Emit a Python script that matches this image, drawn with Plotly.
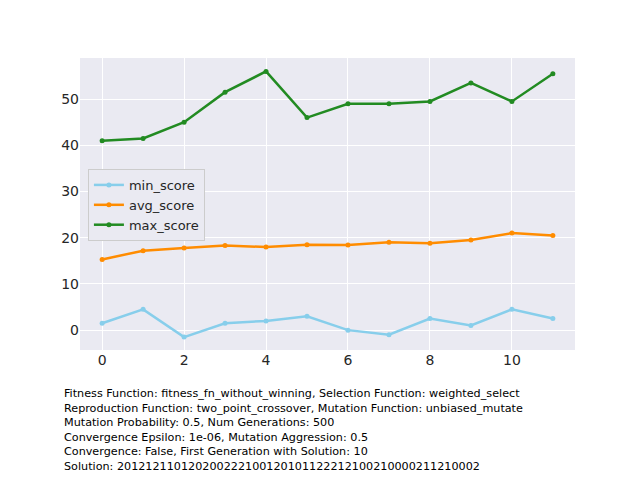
import plotly.graph_objects as go

generations = list(range(12))
min_score = [1.5, 4.5, -1.5, 1.5, 2, 3, 0, -1, 2.5, 1, 4.5, 2.5]
avg_score = [15.3, 17.2, 17.8, 18.3, 18.0, 18.5, 18.4, 19.0, 18.8, 19.5, 21.0, 20.5]
max_score = [41, 41.5, 45, 51.5, 56, 46, 49, 49, 49.5, 53.5, 49.5, 55.5]

info_lines = [
    "Fitness Function: fitness_fn_without_winning, Selection Function: weighted_select",
    "Reproduction Function: two_point_crossover, Mutation Function: unbiased_mutate",
    "Mutation Probability: 0.5, Num Generations: 500",
    "Convergence Epsilon: 1e-06, Mutation Aggression: 0.5",
    "Convergence: False, First Generation with Solution: 10",
    "Solution: 201212110120200222100120101122212100210000211210002",
]

fig = go.Figure()
for name, vals, color in [("min_score", min_score, "#87CEEB"),
                          ("avg_score", avg_score, "#FF8C00"),
                          ("max_score", max_score, "#228B22")]:
    fig.add_trace(go.Scatter(x=generations, y=vals, name=name, mode="lines+markers",
                             line=dict(color=color, width=2.5),
                             marker=dict(size=5, color=color)))

fig.update_layout(
    width=632, height=472,
    paper_bgcolor="white", plot_bgcolor="#EAEAF2",
    margin=dict(l=72, r=65, t=50, b=130),
    font=dict(family="DejaVu Sans", size=14, color="#262626"),
    xaxis=dict(range=[-0.54, 11.54], tickvals=[0, 2, 4, 6, 8, 10],
               gridcolor="white", gridwidth=1.3, zeroline=False, ticks=""),
    yaxis=dict(range=[-4.3, 58.9], tickvals=[0, 10, 20, 30, 40, 50],
               gridcolor="white", gridwidth=1.3, zeroline=False, ticks=""),
    legend=dict(x=0.016, y=0.62, xanchor="left", yanchor="top",
                bgcolor="#EAEAF2", bordercolor="#CCCCCC", borderwidth=1,
                font=dict(size=13)),
    showlegend=True,
)

fig.add_annotation(text="<br>".join(info_lines), xref="paper", yref="paper",
                   x=-0.036, y=-0.12, xanchor="left", yanchor="top", align="left",
                   showarrow=False, font=dict(size=11.2, color="black"))

fig.write_html("out.html")
